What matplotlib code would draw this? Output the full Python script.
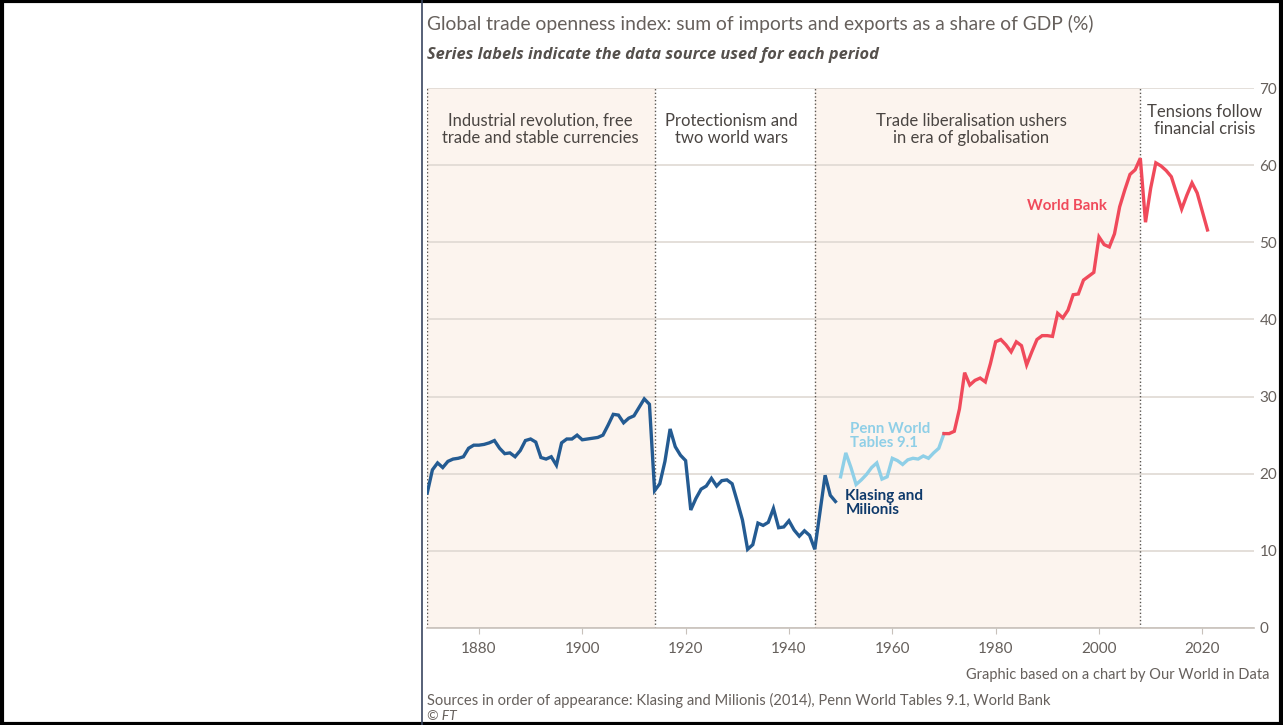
import numpy as np
import matplotlib
matplotlib.use("Agg")
from matplotlib import pyplot as plt
from matplotlib.patches import Rectangle
from matplotlib.lines import Line2D

plt.rcParams['font.family'] = ['Lato', 'DejaVu Sans']

# Klasing and Milionis (1870-1949)
km_years = list(range(1870, 1950))
km_values = [17.5, 20.5, 21.4, 20.8, 21.6, 21.9, 22.0, 22.2, 23.3, 23.7,
             23.7, 23.8, 24.0, 24.3, 23.3, 22.6, 22.7, 22.2, 23.0, 24.3,
             24.5, 24.1, 22.1, 21.9, 22.2, 21.1, 24.0, 24.5, 24.5, 25.0,
             24.4, 24.5, 24.6, 24.7, 25.0, 26.3, 27.7, 27.6, 26.6, 27.2,
             27.5, 28.6, 29.7, 29.0, 17.8, 18.7, 21.6, 25.8, 23.5, 22.4,
             21.7, 15.3, 16.8, 18.0, 18.4, 19.4, 18.4, 19.1, 19.2, 18.7,
             16.4, 14.0, 10.2, 10.8, 13.6, 13.3, 13.7, 15.5, 13.0, 13.1,
             13.9, 12.7, 11.9, 12.6, 12.0, 10.2, 15.0, 19.8, 17.2, 16.4]

# Penn World Tables 9.1 (1950-1970)
pwt_years = list(range(1950, 1971))
pwt_values = [19.6, 22.7, 20.8, 18.6, 19.2, 19.9, 20.8, 21.4, 19.3, 19.6,
              22.0, 21.7, 21.2, 21.8, 22.0, 21.9, 22.3, 22.0, 22.7, 23.3,
              25.2]

# World Bank (1970-2021)
wb_years = list(range(1970, 2022))
wb_values = [25.2, 25.2, 25.5, 28.4, 33.1, 31.5, 32.1, 32.4, 31.9, 34.3,
             37.1, 37.4, 36.7, 35.8, 37.1, 36.6, 34.1, 35.8, 37.4, 37.9,
             37.9, 37.8, 40.8, 40.2, 41.2, 43.2, 43.3, 45.1, 45.6, 46.1,
             50.7, 49.7, 49.4, 51.1, 54.6, 56.8, 58.8, 59.4, 60.9, 52.6,
             57.0, 60.3, 59.9, 59.3, 58.5, 56.4, 54.3, 56.1, 57.7, 56.4,
             54.0, 51.6]

period_bounds = [1870, 1914, 1945, 2008, 2030]
period_labels = ["Industrial revolution, free\ntrade and stable currencies",
                 "Protectionism and\ntwo world wars",
                 "Trade liberalisation ushers\nin era of globalisation",
                 "Tensions follow\nfinancial crisis"]
period_shaded = [True, False, True, False]
label_x = [1891.8, 1928.9, 1975.3, 2020.4]
label_y = [64.6, 64.6, 64.6, 65.8]

x_ticks = [1880, 1900, 1920, 1940, 1960, 1980, 2000, 2020]
y_ticks = [0, 10, 20, 30, 40, 50, 60, 70]

dark_blue = "#245b92"
light_blue = "#8fcfe7"
red = "#f04a5b"
shade = "#fcf4ee"
grid_col = "#ddd6d0"
text_col = "#66605c"

fig = plt.figure(figsize=(12.83, 7.25), dpi=100)
ax = fig.add_axes([0.333, 0.1338, 0.6444, 0.7448])

ax.set_xlim(1870, 2030)
ax.set_ylim(0, 70)

# shaded periods and dotted dividers
for i in range(len(period_labels)):
    x0, x1 = period_bounds[i], period_bounds[i + 1]
    if period_shaded[i]:
        ax.axvspan(x0, x1, color=shade, zorder=0, lw=0)
    ax.text(label_x[i], label_y[i], period_labels[i], ha="center", va="center",
            fontsize=12, color="#4a4542", linespacing=1.1, zorder=3)
for b in period_bounds[:-1]:
    ax.axvline(b, color="#5a5550", lw=1.0, ls=(0, (1, 1.6)), zorder=2)

ax.set_yticks(y_ticks)
ax.set_xticks(x_ticks)
ax.grid(axis="y", color=grid_col, lw=1.1, zorder=1)
ax.yaxis.tick_right()
for s in ["left", "right", "top"]:
    ax.spines[s].set_visible(False)
ax.spines["bottom"].set_color("#c8c1bb")
ax.spines["bottom"].set_linewidth(1.2)
ax.tick_params(axis="y", length=0, pad=4, labelsize=11, labelcolor=text_col)
ax.tick_params(axis="x", length=4, color="#c8c1bb", pad=6, labelsize=11,
               labelcolor=text_col)

ax.plot(km_years, km_values, color=dark_blue, lw=2.4, zorder=4,
        solid_joinstyle="miter")
ax.plot(pwt_years, pwt_values, color=light_blue, lw=2.4, zorder=4,
        solid_joinstyle="miter")
ax.plot(wb_years, wb_values, color=red, lw=2.4, zorder=4,
        solid_joinstyle="miter")

ax.text(2001.6, 54.7, "World Bank", color=red, fontsize=10.8, fontweight="bold",
        ha="right", va="center", zorder=5)
ax.text(1951.8, 24.9, "Penn World\nTables 9.1", color=light_blue, fontsize=10.8,
        fontweight="bold", ha="left", va="center", linespacing=0.95, zorder=5)
ax.text(1950.9, 16.2, "Klasing and\nMilionis", color="#0f3a6b", fontsize=11,
        fontweight="bold", ha="left", va="center", linespacing=0.95, zorder=5)

# titles and footnotes
fig.text(427 / 1283, 1 - 24 / 725, "Global trade openness index: sum of imports and exports as a share of GDP (%)",
         fontsize=13.9, color=text_col, ha="left", va="center")
fig.text(427 / 1283, 1 - 55 / 725, "Series labels indicate the data source used for each period",
         fontsize=11.8, color="#55504c", ha="left", va="center",
         fontweight="bold", style="italic", family=["Open Sans", "DejaVu Sans"])
fig.text(1270 / 1283, 1 - 675 / 725, "Graphic based on a chart by Our World in Data",
         fontsize=10.5, color=text_col, ha="right", va="center")
fig.text(427 / 1283, 1 - 700 / 725, "Sources in order of appearance: Klasing and Milionis (2014), Penn World Tables 9.1, World Bank",
         fontsize=10.6, color=text_col, ha="left", va="center")
fig.text(427 / 1283, 1 - 716 / 725, "© FT", fontsize=10, color=text_col,
         ha="left", va="center", style="italic")

# outer frame and divider line
fig.patches.append(Rectangle((0.0015, 0.002), 0.997, 0.996, transform=fig.transFigure,
                             fill=False, edgecolor="black", lw=3))
fig.lines.append(Line2D([422 / 1283, 422 / 1283], [0, 1], transform=fig.transFigure,
                        color="#3a4660", lw=1.2))

fig.savefig("out.png", dpi=100)
